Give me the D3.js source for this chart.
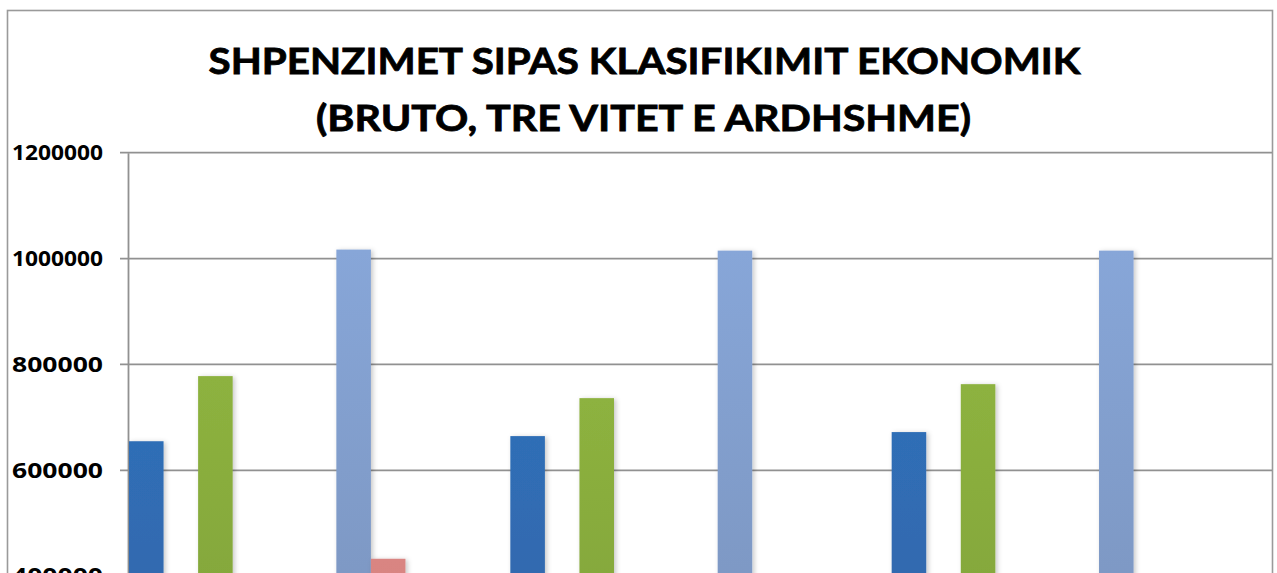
<!DOCTYPE html>
<html>
<head>
<meta charset="utf-8">
<script src="https://cdn.jsdelivr.net/npm/d3@7"></script>
<style>
  body { margin: 0; background: #fff; }
  svg { display: block; }
</style>
</head>
<body>
<div id="chart-area"></div>
<script>
// data (bars below 400000 are cut off, so their values are unknown)
let categories = ["Viti 1", "Viti 2", "Viti 3"];
let seriesNames = ["Seria 1", "Seria 2", "Seria 3", "Seria 4", "Seria 5", "Seria 6", "Seria 7", "Seria 8"];
let seria1 = [655000, 664700, 672300];
let seria2 = [null, null, null];
let seria3 = [778000, 736400, 762800];
let seria4 = [null, null, null];
let seria5 = [null, null, null];
let seria6 = [null, null, null];
let seria7 = [1017000, 1015000, 1015000];
let seria8 = [433000, null, null];
let yTicks = [0, 200000, 400000, 600000, 800000, 1000000, 1200000];
let titleLines = ["SHPENZIMET SIPAS KLASIFIKIMIT EKONOMIK", "(BRUTO, TRE VITET E ARDHSHME)"];

const drawChart = () => {
    let width = 1277;
    let height = 573;
    let plotLeft = 128;
    let plotRight = 1272;

    let allSeries = [seria1, seria2, seria3, seria4, seria5, seria6, seria7, seria8];
    // top / bottom gradient colours for each series
    let colors = [
        ["#2f6eb6", "#3464a6"],
        ["#c0504d", "#a94543"],
        ["#8db23f", "#7d9e38"],
        ["#8064a2", "#6f5790"],
        ["#4bacc6", "#4096ad"],
        ["#f79646", "#d9833d"],
        ["#87a6d8", "#7890b8"],
        ["#d98582", "#d27f7c"]
    ];

    let dataset = [];
    categories.forEach((cat, i) => {
        allSeries.forEach((s, j) => {
            if (s[i] !== null) dataset.push({ cat: cat, series: seriesNames[j], idx: j, value: s[i] });
        });
    });

    //scale functions
    let x0 = d3.scaleBand()
        .domain(categories)
        .range([plotLeft, plotRight])
        .padding(0);

    let x1 = d3.scaleBand()
        .domain(seriesNames)
        .range([1, 1 + x0.bandwidth() * 0.725])
        .padding(0);

    // y range runs past the bottom of the picture, like the cropped original
    let yScale = d3.scaleLinear()
        .domain([0, 1200000])
        .range([788, 152.7]);

    let svg = d3.select("#chart-area")
        .append("svg")
        .attr("width", width)
        .attr("height", height);

    let defs = svg.append("defs");
    colors.forEach((c, j) => {
        let g = defs.append("linearGradient")
            .attr("id", "grad" + j)
            .attr("x1", 0).attr("y1", 0)
            .attr("x2", 0).attr("y2", 1);
        g.append("stop").attr("offset", "0%").attr("stop-color", c[0]);
        g.append("stop").attr("offset", "100%").attr("stop-color", c[1]);
    });
    defs.append("filter")
        .attr("id", "shadow")
        .attr("x", "-20%").attr("y", "-5%")
        .attr("width", "160%").attr("height", "120%")
        .append("feDropShadow")
        .attr("dx", 2).attr("dy", 1)
        .attr("stdDeviation", 2.5)
        .attr("flood-color", "#000")
        .attr("flood-opacity", 0.22);

    // chart border
    svg.append("rect")
        .attr("x", 7.5)
        .attr("y", 10.5)
        .attr("width", 1265)
        .attr("height", 700)
        .attr("fill", "none")
        .attr("stroke", "#9a9a9a")
        .attr("stroke-width", 1.6);

    //gridlines
    svg.append("g")
        .selectAll("line")
        .data(yTicks)
        .join("line")
        .attr("x1", plotLeft - 8)
        .attr("x2", plotRight)
        .attr("y1", d => yScale(d))
        .attr("y2", d => yScale(d))
        .attr("stroke", "#919191")
        .attr("stroke-width", 1.8);

    //y axis
    let yAxis = d3.axisLeft()
        .scale(yScale)
        .tickValues(yTicks)
        .tickSize(0)
        .tickPadding(25)
        .tickFormat(d3.format("d"));

    let yG = svg.append("g")
        .attr("transform", "translate(" + plotLeft + ", 0)")
        .call(yAxis);
    yG.select(".domain")
        .attr("stroke", "#919191")
        .attr("stroke-width", 1.8);
    yG.selectAll("text")
        .attr("font-family", "'Open Sans', 'Liberation Sans', sans-serif")
        .attr("font-weight", "bold")
        .attr("font-size", "21px")
        .attr("fill", "#000")
        .attr("textLength", 91)
        .attr("lengthAdjust", "spacingAndGlyphs");

    //bars
    svg.append("g")
        .selectAll("rect")
        .data(dataset)
        .join("rect")
        .attr("x", d => x0(d.cat) + x1(d.series))
        .attr("y", d => yScale(d.value))
        .attr("width", x1.bandwidth())
        .attr("height", d => yScale(0) - yScale(d.value))
        .attr("fill", d => "url(#grad" + d.idx + ")")
        .attr("filter", "url(#shadow)");

    // title
    let titleWidths = [872, 655];
    let titleY = [74, 131];
    titleLines.forEach((t, i) => {
        svg.append("text")
            .attr("x", (width + 10) / 2 + (i === 0 ? 1 : 0))
            .attr("y", titleY[i])
            .attr("text-anchor", "middle")
            .attr("font-family", "Lato, 'Open Sans', sans-serif")
            .attr("font-weight", "bold")
            .attr("font-size", "37px")
            .attr("fill", "#000")
            .attr("stroke", "#000")
            .attr("stroke-width", 0.8)
            .attr("textLength", titleWidths[i])
            .attr("lengthAdjust", "spacingAndGlyphs")
            .text(t);
    });
};
drawChart();
</script>
</body>
</html>
